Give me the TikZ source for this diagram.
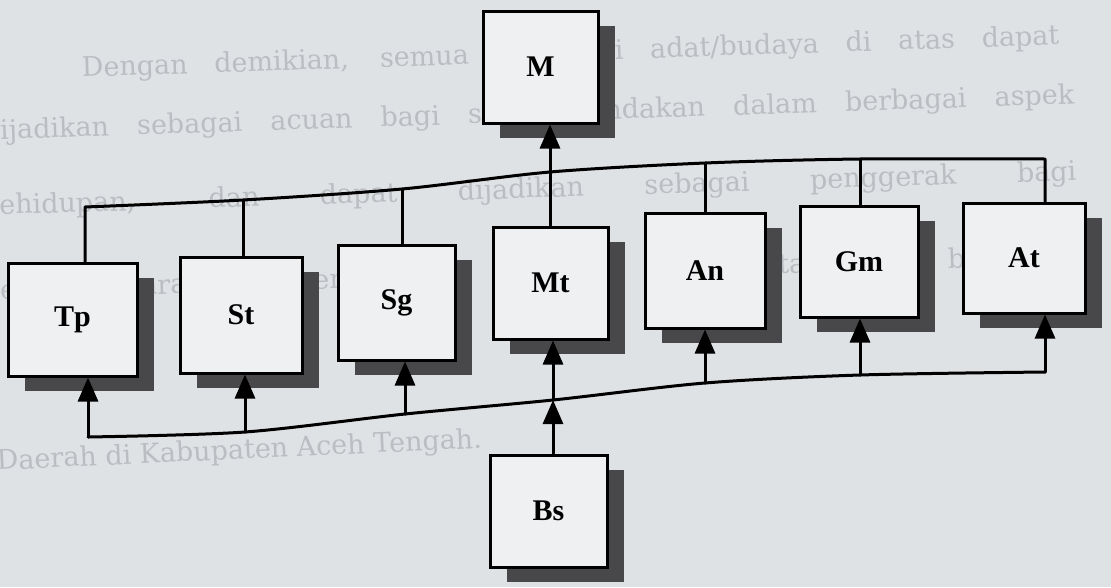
\documentclass[tikz,border=0pt]{standalone}
\usepackage{fontspec}
\setmainfont{Liberation Serif}
\newfontfamily\bgfont{DejaVu Serif}
\usetikzlibrary{arrows.meta,shadows}
\definecolor{paper}{RGB}{223,226,229}
\definecolor{boxfill}{RGB}{238,240,241}
\definecolor{shade}{RGB}{72,72,74}
\definecolor{ghost}{RGB}{186,189,193}

\begin{document}
\begin{tikzpicture}[x=1pt,y=-1pt,
  unit/.style={draw=black, line width=3pt, fill=boxfill, inner sep=0pt,
    font=\bfseries\fontsize{30}{32}\selectfont,
    drop shadow={shadow xshift=17pt, shadow yshift=-15pt, fill=shade, opacity=1}},
  wire/.style={line width=3pt, line cap=round, line join=round},
  arr/.style={wire, -{Triangle[length=24pt,width=20pt]}},
  ghostline/.style={anchor=base west, inner sep=0pt, text=ghost,
    font=\bgfont\fontsize{27}{30}\selectfont}]

% page
\fill[paper] (0,0) rectangle (1111,587);
\useasboundingbox (0,0) rectangle (1111,587);

\begin{scope}
\clip (0,0) rectangle (1111,587);

% running text of the page behind the chart
\node[ghostline, rotate=1.9] (g1) at (82,77)
  {\makebox[978pt][s]{Dengan demikian, semua nilai-nilai adat/budaya di atas dapat}};
\node[ghostline, rotate=1.9] (g2) at (-17,140)
  {\makebox[1092pt][s]{dijadikan sebagai acuan bagi semua tindakan dalam berbagai aspek}};
\node[ghostline, rotate=1.8] (g3) at (-17,215)
  {\makebox[1094pt][s]{kehidupan, dan dapat dijadikan sebagai penggerak bagi}};
\node[ghostline, rotate=1.9] (g4) at (-17,300)
  {\makebox[1097pt][s]{penyelenggara pemerintahan, baik pemerintahan, birokrasi,}};
\node[ghostline, rotate=2.6] (g5) at (-3,470)
  {Daerah di Kabupaten Aceh Tengah.};

% units
\node[unit, minimum width=115pt, minimum height=112pt] (M)  at (540.5,67)  {M};
\node[unit, minimum width=129pt, minimum height=113pt] (Tp) at (72.5,319.5) {Tp};
\node[unit, minimum width=122pt, minimum height=116pt] (St) at (241,315)   {St};
\node[unit, minimum width=117pt, minimum height=115pt] (Sg) at (396.5,302.5) {Sg};
\node[unit, minimum width=115pt, minimum height=112pt] (Mt) at (550.5,283) {Mt};
\node[unit, minimum width=120pt, minimum height=115pt] (An) at (705,270.5) {An};
\node[unit, minimum width=118pt, minimum height=111pt] (Gm) at (859,261.5) {Gm};
\node[unit, minimum width=122pt, minimum height=110pt] (At) at (1024,258)  {At};
\node[unit, minimum width=117pt, minimum height=112pt] (Bs) at (548.5,511) {Bs};

% taps on the upper bus
\coordinate (tTp) at (85,207);
\coordinate (tSt) at (243,200);
\coordinate (tSg) at (402,189);
\coordinate (tMt) at (550,172);
\coordinate (tAn) at (705,163);
\coordinate (tGm) at (860,159);
\coordinate (tAt) at (1045,159);

% taps on the lower bus
\coordinate (bTp) at (88,437);
\coordinate (bSt) at (245,432);
\coordinate (bSg) at (405,414);
\coordinate (bMt) at (553,400);
\coordinate (bAn) at (705,383);
\coordinate (bGm) at (860,375);
\coordinate (bAt) at (1045,372);

% upper bus joining the tops of the units
\draw[wire] (tTp |- Tp.north) -- plot[smooth, tension=0.5]
  coordinates {(tTp) (tSt) (tSg) (tMt) (tAn) (tGm) (tAt)} -- (tAt |- At.north);
\draw[wire] (tSt) -- (tSt |- St.north);
\draw[wire] (tSg) -- (tSg |- Sg.north);
\draw[wire] (tAn) -- (tAn |- An.north);
\draw[wire] (tGm) -- (tGm |- Gm.north);
\draw[arr] (tMt |- Mt.north) -- (tMt |- M.south);

% lower bus feeding the units from below
\draw[wire] plot[smooth, tension=0.5]
  coordinates {(bTp) (bSt) (bSg) (bMt) (bAn) (bGm) (bAt)};
\draw[arr] (bTp) -- (bTp |- Tp.south);
\draw[arr] (bSt) -- (bSt |- St.south);
\draw[arr] (bSg) -- (bSg |- Sg.south);
\draw[arr] (bMt) -- (bMt |- Mt.south);
\draw[arr] (bAn) -- (bAn |- An.south);
\draw[arr] (bGm) -- (bGm |- Gm.south);
\draw[arr] (bAt) -- (bAt |- At.south);
\draw[arr] (bMt |- Bs.north) -- (bMt);
\end{scope}
\end{tikzpicture}
\end{document}
